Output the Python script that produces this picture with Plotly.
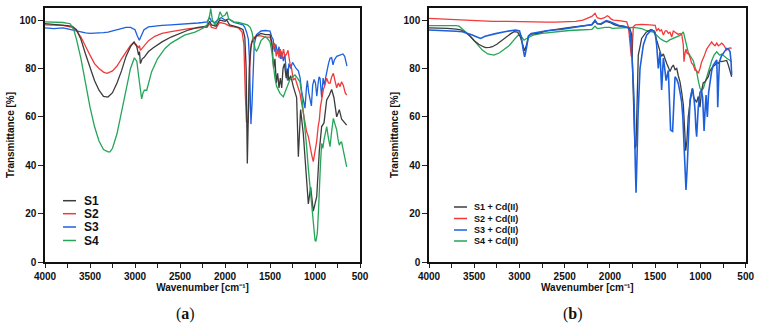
import plotly.graph_objects as go

# ---------------- data: panel (a) ----------------
a_s1_wn = [4000, 3800, 3700, 3650, 3600, 3550, 3500, 3450, 3400, 3350, 3300, 3250, 3200, 3150, 3100, 3050, 3010, 2980, 2960, 2950, 2940, 2920, 2900, 2850, 2800, 2700, 2600, 2500, 2400, 2300, 2200, 2170, 2150, 2100, 2060, 2000, 1980, 1950, 1900, 1850, 1800, 1780, 1765, 1752, 1740, 1730, 1715, 1700, 1650, 1600, 1550, 1500, 1480, 1460, 1445, 1430, 1415, 1400, 1385, 1370, 1355, 1340, 1320, 1305, 1290, 1270, 1241, 1204, 1185, 1160, 1130, 1100, 1074, 1048, 1019, 981, 952, 926, 900, 870, 840, 815, 790, 759, 730, 704, 678, 648]
a_s1_t = [98.5, 98, 97.5, 96, 92, 86, 80, 75, 71, 68.5, 68.2, 70, 74, 79, 85, 89, 91, 89, 85.5, 87, 82, 84, 84.5, 87, 88.5, 91, 93, 94.5, 96, 97, 97.5, 99.5, 98, 97.5, 100, 99.5, 100, 98, 97.5, 97, 96, 93, 80, 40.7, 62, 80, 88, 91, 93.5, 94.5, 94, 94, 91, 80, 84, 74, 78, 72, 76, 72, 80, 82, 76, 80, 75, 77, 72.5, 68, 43.5, 63, 53, 36.8, 24, 31, 21, 27, 46, 56, 57.5, 67, 69, 71.3, 68, 60, 63, 59, 58, 56.6]

a_s2_wn = [4000, 3800, 3700, 3650, 3600, 3550, 3500, 3450, 3400, 3350, 3310, 3250, 3200, 3150, 3100, 3050, 3020, 2990, 2960, 2950, 2940, 2920, 2900, 2850, 2780, 2700, 2600, 2500, 2400, 2300, 2200, 2170, 2150, 2100, 2060, 2000, 1950, 1900, 1850, 1810, 1790, 1775, 1762, 1745, 1735, 1725, 1710, 1690, 1650, 1600, 1550, 1500, 1480, 1465, 1450, 1430, 1415, 1400, 1385, 1370, 1350, 1335, 1315, 1300, 1278, 1260, 1241, 1220, 1204, 1185, 1167, 1150, 1130, 1110, 1093, 1075, 1055, 1035, 1019, 1000, 981, 965, 952, 940, 925, 907, 890, 870, 850, 833, 815, 796, 778, 759, 740, 722, 705, 685, 665, 648]
a_s2_t = [98, 97.8, 97, 95.5, 93, 89, 85.5, 82, 80, 78.5, 78, 79, 81, 84, 87, 89.5, 90.5, 90, 88.5, 89.5, 87.5, 88.5, 89.5, 91.5, 93.3, 94.5, 95.2, 96, 96.5, 96.8, 97, 98.5, 97, 96.5, 99, 98.5, 97.5, 97.2, 96.8, 95, 90, 70, 58, 57.5, 65, 80, 90, 92.5, 93.5, 93.5, 93, 93, 90, 88, 90.5, 85, 88, 84.5, 88, 84, 88, 85, 86, 87.5, 82, 80, 75.2, 76, 74, 72, 69.7, 66, 62, 58, 53.8, 52, 47, 44, 41.5, 46, 50, 56, 58.7, 64, 68, 71.3, 73, 76, 74, 73.9, 76.5, 78, 75, 72, 74, 72.5, 74.5, 73, 70, 69]

a_s3_wn = [4000, 3900, 3800, 3750, 3700, 3650, 3600, 3550, 3500, 3450, 3400, 3350, 3300, 3250, 3200, 3150, 3100, 3050, 3000, 2975, 2952, 2930, 2900, 2850, 2800, 2700, 2600, 2500, 2400, 2350, 2300, 2250, 2200, 2170, 2150, 2110, 2070, 2040, 2000, 1960, 1900, 1850, 1800, 1780, 1760, 1740, 1730, 1720, 1712, 1700, 1690, 1675, 1650, 1600, 1550, 1500, 1480, 1465, 1450, 1435, 1415, 1400, 1385, 1370, 1352, 1335, 1320, 1305, 1290, 1270, 1250, 1230, 1210, 1185, 1165, 1148, 1125, 1111, 1095, 1085, 1070, 1055, 1040, 1026, 1010, 995, 980, 965, 955, 944, 926, 910, 895, 880, 870, 850, 833, 815, 800, 785, 759, 720, 690, 670, 655, 645]
a_s3_t = [96.8, 96.5, 96.8, 96.5, 96, 95.5, 95, 94.7, 94.5, 94.5, 94.8, 94.8, 95, 95.5, 96, 96.5, 97, 97, 96, 93.5, 91.7, 93.5, 96, 97.2, 97.5, 97.8, 98, 98.2, 98.3, 98.5, 98.8, 99, 99.3, 101, 99.5, 99, 100.5, 101, 100, 100.5, 99, 98.5, 98, 97, 95, 92, 85, 70, 57, 65, 80, 90, 94, 95.5, 95.7, 95.5, 93, 92, 87, 90, 86, 89, 84, 87, 83, 86, 79, 75, 82, 80, 82.5, 81, 80, 79, 76, 70.4, 65, 63.6, 72, 75, 70, 66.3, 64.5, 73, 75.5, 74, 68.5, 74, 76.5, 76, 68, 76, 73, 76.5, 78.5, 82, 84.2, 84.5, 81.5, 83.5, 85, 85.5, 86, 85, 83, 81]

a_s4_wn = [4000, 3900, 3800, 3720, 3680, 3650, 3600, 3550, 3500, 3450, 3400, 3350, 3300, 3278, 3250, 3200, 3150, 3100, 3050, 3007, 2980, 2960, 2940, 2926, 2910, 2896, 2870, 2850, 2815, 2750, 2667, 2600, 2518, 2450, 2333, 2250, 2200, 2170, 2159, 2140, 2111, 2080, 2056, 2030, 2000, 1978, 1960, 1900, 1850, 1800, 1750, 1720, 1700, 1680, 1665, 1648, 1630, 1600, 1556, 1530, 1500, 1480, 1463, 1445, 1426, 1400, 1389, 1370, 1352, 1330, 1315, 1295, 1278, 1250, 1222, 1195, 1167, 1150, 1130, 1110, 1093, 1075, 1056, 1035, 1019, 1000, 990, 974, 960, 952, 940, 926, 913, 900, 885, 870, 850, 833, 815, 796, 778, 759, 745, 730, 715, 704, 685, 667, 648]
a_s4_t = [99.3, 99.2, 99, 98.5, 96, 92, 84, 74, 64, 56, 50, 46.5, 45.5, 45.5, 47, 53, 62, 72, 80, 84.4, 83, 77, 70, 67.4, 70, 71, 71, 74, 78.7, 84, 88.3, 90.5, 92.2, 93.8, 95, 96.5, 98, 102, 104.8, 100, 98, 100, 103.4, 101.5, 102, 103.4, 100.5, 99.3, 99, 98.5, 98, 97, 95, 91, 88, 87.2, 88.5, 91.5, 93.1, 92.5, 91, 87, 80.7, 76, 72.5, 70.5, 69.7, 69, 68.3, 70.5, 72, 74, 75.4, 76.5, 77.3, 76, 74.5, 70, 62.8, 55, 47.7, 39, 31, 22, 14.6, 9, 8.5, 12, 22, 31, 40, 49, 47, 50.5, 53, 56, 51, 47.7, 54, 59.4, 57, 54.6, 51, 48.3, 49.5, 49.6, 46, 42.1, 39.3]

# ---------------- data: panel (b) ----------------
b_s1_wn = [4000, 3900, 3800, 3700, 3650, 3600, 3550, 3500, 3450, 3400, 3374, 3330, 3300, 3250, 3200, 3150, 3100, 3060, 3020, 2990, 2965, 2943, 2920, 2900, 2870, 2800, 2700, 2600, 2500, 2400, 2300, 2200, 2165, 2140, 2100, 2040, 2000, 1950, 1900, 1850, 1800, 1780, 1760, 1742, 1725, 1712, 1700, 1687, 1650, 1600, 1550, 1510, 1484, 1460, 1447, 1430, 1410, 1390, 1373, 1355, 1336, 1318, 1300, 1280, 1262, 1245, 1226, 1207, 1189, 1175, 1163, 1150, 1135, 1115, 1100, 1090, 1075, 1060, 1042, 1024, 1005, 986, 970, 950, 930, 913, 895, 876, 858, 839, 820, 802, 785, 765, 729, 710, 692, 670, 655]
b_s1_t = [96.8, 96.8, 96.6, 96.3, 96, 95, 93.5, 91.5, 90, 89, 88.6, 88.7, 89, 90, 91.5, 93, 94.3, 95.2, 95, 93, 90, 87.3, 90, 93.5, 94.2, 94.5, 95.5, 96.2, 96.7, 97.2, 97.5, 98, 99.5, 98.5, 98.3, 99.5, 99, 98, 97.5, 97.2, 97, 96.5, 94, 69, 47, 48, 70, 85.5, 92.4, 95, 96, 95.5, 91.7, 88.5, 87.6, 85, 86, 83.5, 82.1, 80.5, 78.7, 80.5, 81.4, 79.5, 80, 77, 74.5, 70, 64.9, 55, 46, 50, 60, 66.2, 69.5, 71.8, 68, 67, 66, 68.4, 64, 71, 74, 74.5, 75.5, 76.6, 79, 80, 81, 81.4, 82.5, 82.1, 83, 82.8, 83, 83.3, 81.4, 79, 76.6]

b_s2_wn = [4000, 3900, 3800, 3700, 3600, 3500, 3400, 3300, 3200, 3100, 3000, 2900, 2800, 2700, 2600, 2500, 2420, 2380, 2300, 2250, 2200, 2165, 2140, 2100, 2060, 2030, 2011, 1990, 1963, 1900, 1850, 1815, 1795, 1778, 1765, 1755, 1742, 1720, 1650, 1560, 1500, 1484, 1465, 1447, 1430, 1410, 1390, 1373, 1355, 1336, 1318, 1300, 1275, 1245, 1225, 1207, 1190, 1182, 1172, 1160, 1145, 1134, 1115, 1097, 1080, 1060, 1040, 1024, 1005, 986, 960, 931, 905, 876, 858, 839, 820, 802, 785, 765, 747, 729, 710, 690, 670, 655]
b_s2_t = [100.7, 100.5, 100.4, 100.2, 100, 99.8, 99.6, 99.5, 99.5, 99.4, 99.3, 99.3, 99.3, 99.2, 99.2, 99.2, 99.2, 99.5, 100, 100.8, 101.5, 102.8, 101, 100.5, 101, 101.8, 101.4, 100.5, 100, 99.8, 99.5, 99.3, 97, 91, 85, 87, 97.2, 98, 98.2, 98, 97.8, 95.5, 96.5, 95.5, 96, 93.8, 95.5, 95.6, 94.5, 95, 93, 95.5, 95, 94.1, 94.5, 94, 90, 82.8, 86, 88, 86, 86.5, 84.5, 82.2, 81.5, 79.3, 79, 78, 80, 82.8, 85, 88, 89.5, 91, 90, 89.4, 90.5, 89.4, 89.8, 90.5, 89.8, 88.5, 87.6, 88.3, 88.5, 88.3]

b_s3_wn = [4000, 3900, 3800, 3700, 3631, 3570, 3521, 3470, 3429, 3380, 3320, 3263, 3150, 3042, 3000, 2980, 2960, 2943, 2925, 2900, 2870, 2821, 2700, 2526, 2400, 2300, 2200, 2165, 2140, 2100, 2040, 2000, 1950, 1900, 1850, 1800, 1780, 1760, 1745, 1734, 1720, 1712, 1700, 1690, 1668, 1631, 1594, 1539, 1502, 1484, 1466, 1447, 1429, 1410, 1395, 1380, 1355, 1340, 1330, 1308, 1295, 1281, 1262, 1245, 1225, 1208, 1195, 1182, 1170, 1160, 1148, 1134, 1115, 1100, 1086, 1070, 1060, 1050, 1042, 1033, 1024, 1005, 990, 976, 968, 960, 950, 938, 931, 924, 910, 895, 876, 858, 840, 820, 814, 809, 800, 790, 770, 747, 725, 710, 690, 673, 662, 655]
b_s3_t = [95.9, 95.8, 95.6, 95.4, 95.2, 94.5, 93.8, 93, 92.4, 93.3, 94, 94.4, 95.3, 95.9, 95.5, 93, 88, 84.8, 88, 93.5, 94.5, 94.8, 95.6, 96.2, 97, 97.5, 98.2, 100, 98.5, 98.5, 99.8, 99.3, 98.5, 97.8, 97.5, 96.8, 95.5, 86.8, 76, 67, 40, 28.6, 45, 60.5, 80, 89.7, 93.9, 96, 95, 89.7, 80, 86.8, 71.1, 84.3, 80, 75, 79.2, 62, 54.5, 54, 68, 76.6, 75.5, 73.8, 70, 66.2, 60, 50, 38, 29.8, 38, 48.2, 66.9, 70, 71.7, 67, 62.8, 55, 51.8, 58, 64, 70.2, 71, 68, 60, 54.2, 62, 69, 64, 60, 70, 75.2, 79, 81.4, 82.5, 83.5, 75, 64, 74, 82.8, 85, 86.2, 87.5, 88.3, 88, 86.9, 83, 77.3]

b_s4_wn = [4000, 3900, 3800, 3700, 3668, 3620, 3570, 3521, 3470, 3411, 3350, 3282, 3220, 3170, 3116, 3060, 3013, 2985, 2965, 2950, 2930, 2895, 2850, 2750, 2600, 2450, 2342, 2200, 2165, 2140, 2050, 2000, 1974, 1900, 1800, 1750, 1700, 1650, 1594, 1560, 1521, 1490, 1447, 1410, 1373, 1340, 1300, 1260, 1226, 1189, 1175, 1160, 1152, 1134, 1115, 1097, 1079, 1060, 1042, 1024, 1005, 986, 968, 950, 931, 905, 876, 850, 820, 800, 785, 765, 740, 710, 680, 655]
b_s4_t = [97.7, 97.8, 97.8, 97.7, 97.5, 96, 94.3, 92.4, 90, 87.6, 86, 85.5, 86.5, 88, 89.4, 91.8, 93.8, 93.5, 92.5, 91.7, 92.2, 93, 93.8, 94.5, 95.2, 95.7, 95.9, 96.2, 97.5, 96.5, 97, 97, 96.6, 96.8, 96.8, 97, 96.8, 96.5, 95.6, 95.3, 95, 94, 92.4, 91.5, 90.9, 91.8, 92.5, 93, 93.7, 95.1, 93, 90, 89, 86.5, 85.3, 84, 83.2, 80.5, 78.7, 75, 71.8, 71, 71.8, 74, 76.6, 80, 83.2, 85.5, 86.9, 86, 85.5, 86, 85, 84.2, 83.5, 82.8]

names_a = ["S1", "S2", "S3", "S4"]
names_b = ["S1 + Cd(II)", "S2 + Cd(II)", "S3 + Cd(II)", "S4 + Cd(II)"]
x_ticks = [4000, 3500, 3000, 2500, 2000, 1500, 1000, 500]
y_ticks = [0, 20, 40, 60, 80, 100]
x_title = "Wavenumber [cm\u207b\u00b9]"
y_title = "Transmittance [%]"

colors = ["#3c3c3c", "#f23a3a", "#1c60de", "#25a558"]

W, H = 760, 325

fig = go.Figure()

series_a = [(a_s1_wn, a_s1_t), (a_s2_wn, a_s2_t), (a_s3_wn, a_s3_t), (a_s4_wn, a_s4_t)]
series_b = [(b_s1_wn, b_s1_t), (b_s2_wn, b_s2_t), (b_s3_wn, b_s3_t), (b_s4_wn, b_s4_t)]

order = [2, 1, 0, 3]
for i in order:
    wn, t = series_a[i]
    fig.add_trace(go.Scatter(x=wn, y=t, mode="lines", name=names_a[i],
                             line=dict(color=colors[i], width=1.3),
                             xaxis="x", yaxis="y", showlegend=False))
order_b = [3, 1, 0, 2]
for i in order_b:
    wn, t = series_b[i]
    fig.add_trace(go.Scatter(x=wn, y=t, mode="lines", name=names_b[i],
                             line=dict(color=colors[i], width=1.3 if i != 2 else 1.6),
                             xaxis="x2", yaxis="y2", showlegend=False))

FAM = "Liberation Sans, Arial, sans-serif"
tickfont = dict(family=FAM, size=10, color="#111", weight="bold")
ytickfont = dict(family=FAM, size=10, color="#111", weight="bold")
titlefont = dict(family=FAM, size=10, color="#111", weight="bold")

def xaxis_cfg(domain, anchor):
    return dict(domain=domain, anchor=anchor, range=[4000, 500], tickvals=x_ticks,
                ticks="outside", ticklen=4, tickwidth=1, tickcolor="#222",
                minor=dict(dtick=250, ticks="outside", ticklen=4, tickcolor="#222", tick0=0),
                showline=True, linecolor="#111", linewidth=1.5, mirror=True,
                showgrid=False, zeroline=False, tickfont=tickfont,
                title=dict(text=x_title, font=titlefont, standoff=3), automargin=False)

def yaxis_cfg(anchor):
    return dict(domain=[1 - 262 / H, 1 - 8 / H], anchor=anchor, range=[0, 105], tickvals=y_ticks,
                ticks="outside", ticklen=5, tickwidth=1, tickcolor="#222",
                showline=True, linecolor="#111", linewidth=1.5, mirror=True,
                showgrid=False, zeroline=False, tickfont=ytickfont,
                title=dict(text=y_title, font=titlefont, standoff=3), automargin=False)

fig.update_layout(
    width=W, height=H, autosize=False,
    margin=dict(l=0, r=0, t=0, b=0),
    paper_bgcolor="white", plot_bgcolor="white",
    xaxis=xaxis_cfg([45 / W, 360 / W], "y"),
    yaxis=yaxis_cfg("x"),
    xaxis2=xaxis_cfg([429 / W, 745.7 / W], "y2"),
    yaxis2=yaxis_cfg("x2"),
    showlegend=False,
)

ann = []
shapes = []
# panel labels
serif = dict(family="Liberation Serif, DejaVu Serif, serif", size=16, color="#111")
ann.append(dict(x=185 / W, y=1 - 313.5 / H, xref="paper", yref="paper", showarrow=False,
                text="(<b>a</b>)", font=serif, xanchor="center", yanchor="middle"))
ann.append(dict(x=573 / W, y=1 - 313.5 / H, xref="paper", yref="paper", showarrow=False,
                text="(<b>b</b>)", font=serif, xanchor="center", yanchor="middle"))

# legends (drawn manually)
leg_a_y = [200.7, 213.7, 227.0, 240.5]
for i, yy in enumerate(leg_a_y):
    shapes.append(dict(type="line", xref="paper", yref="paper", x0=63 / W, x1=76 / W,
                       y0=1 - yy / H, y1=1 - yy / H, line=dict(color=colors[i], width=1.5)))
    ann.append(dict(x=82 / W, y=1 - yy / H, xref="paper", yref="paper", showarrow=False,
                    text="<b>" + names_a[i] + "</b>",
                    font=dict(family=FAM, size=12, color="#111"),
                    xanchor="left", yanchor="middle"))
leg_b_y = [207.0, 218.5, 230.0, 241.0]
for i, yy in enumerate(leg_b_y):
    shapes.append(dict(type="line", xref="paper", yref="paper", x0=454 / W, x1=467 / W,
                       y0=1 - yy / H, y1=1 - yy / H, line=dict(color=colors[i], width=1.5)))
    ann.append(dict(x=472 / W, y=1 - yy / H, xref="paper", yref="paper", showarrow=False,
                    text="<b>" + names_b[i] + "</b>",
                    font=dict(family=FAM, size=9, color="#111"),
                    xanchor="left", yanchor="middle"))

fig.update_layout(annotations=ann, shapes=shapes)
fig.write_html("out.html")
